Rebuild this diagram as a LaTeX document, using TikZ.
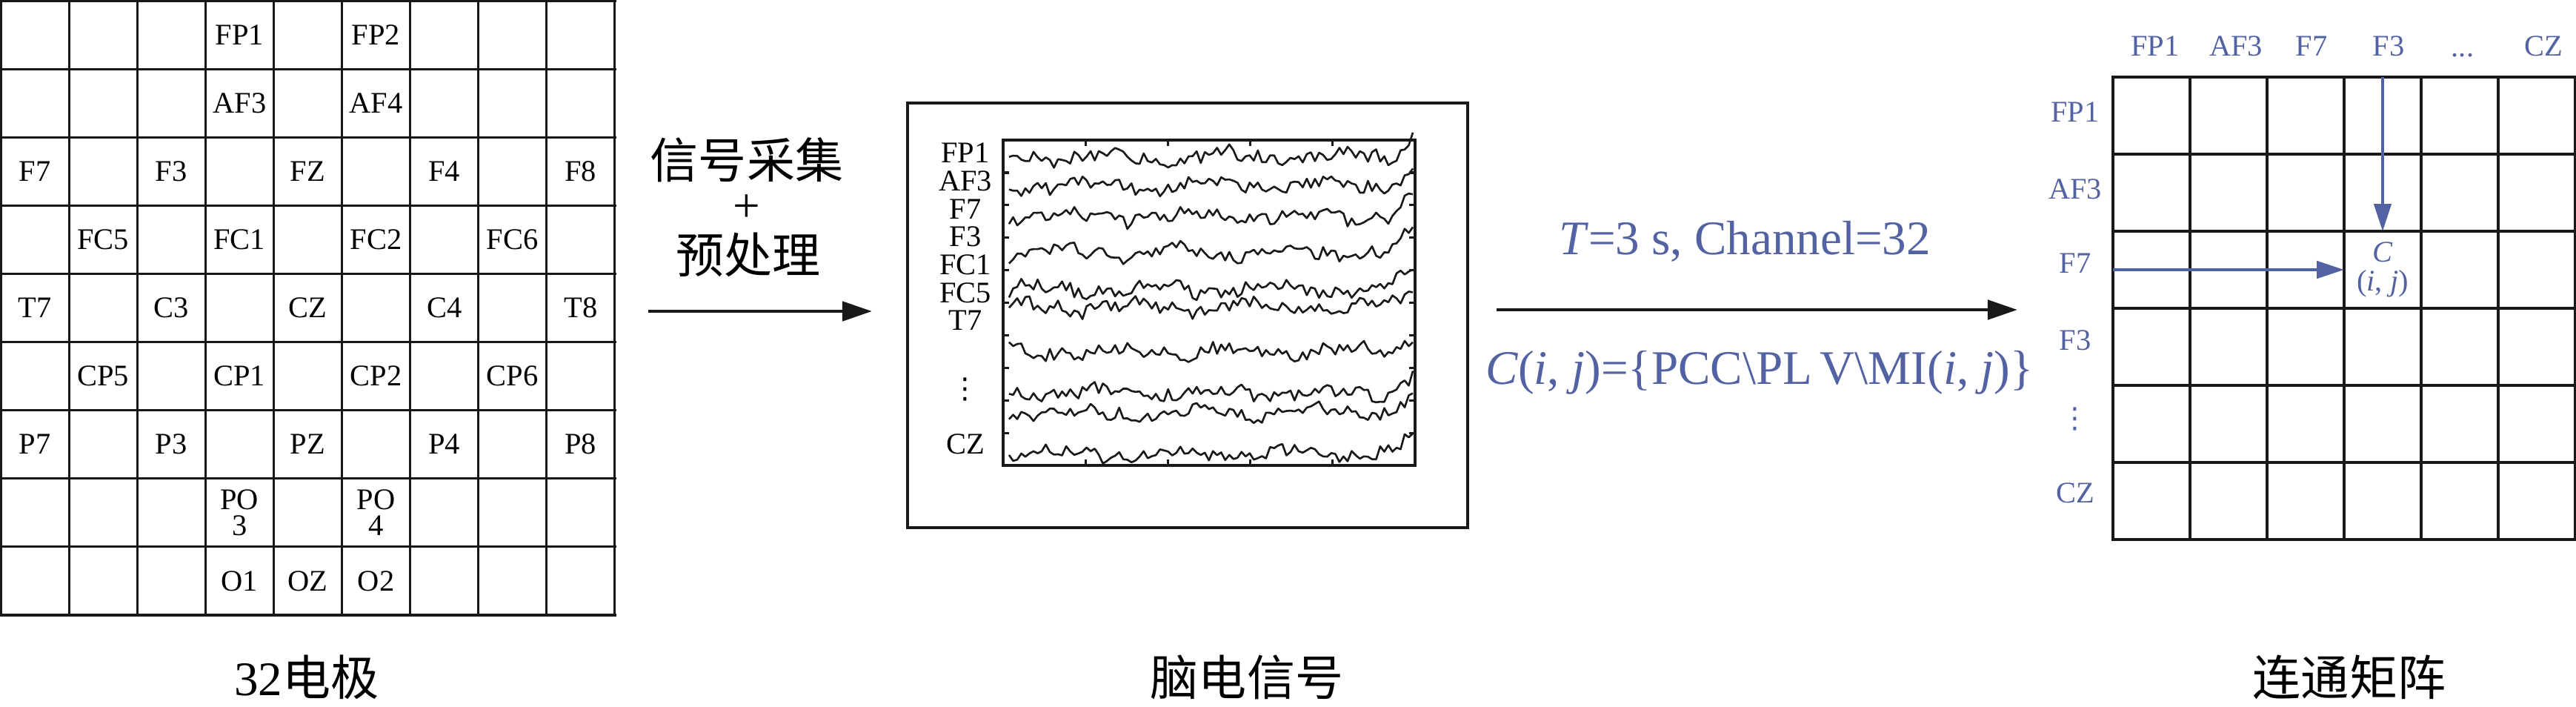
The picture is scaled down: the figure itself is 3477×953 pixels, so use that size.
\documentclass[tikz,border=0pt]{standalone}
\usepackage{fontspec}
\setmainfont{Liberation Serif}
\newfontfamily\cjk{Noto Sans CJK SC}
\newfontfamily\dejavu{DejaVu Sans}
\usetikzlibrary{arrows.meta}
\definecolor{elblue}{RGB}{82,98,163}
\tikzset{
  gridline/.style={line width=0.9pt, draw=black!90, line cap=rect},
  lab/.style={font=\fontsize{11.5}{9.8}\selectfont, inner sep=0pt},
  bluelab/.style={lab, text=elblue},
  dotslab/.style={font=\dejavu\fontsize{11}{11}\selectfont, inner sep=0pt},
  bigcjk/.style={font=\cjk\fontsize{18.5}{22}\selectfont, inner sep=0pt},
  caption/.style={font=\fontsize{18.5}{22}\selectfont, inner sep=0pt},
  formula/.style={font=\fontsize{18.5}{22}\selectfont, inner sep=0pt, text=elblue},
  flow/.style={line width=1.4pt, draw=black!90, -{Triangle[length=11.4pt,width=7.4pt]}},
  bluearrow/.style={draw=elblue, line width=1.1pt, -{Triangle[length=10.5pt,width=6.6pt]}},
  trace/.style={line width=0.75pt, line join=round, draw=black!90},
  tick/.style={line width=0.9pt, draw=black!90},
}
\begin{document}
\begin{tikzpicture}[x=0.01cm,y=-0.01cm]
\useasboundingbox (0,0) rectangle (3477,953);

% ---------- left: 32 electrode grid ----------
\foreach \i in {0,...,9} {
  \draw[gridline] ({1+\i*92.1},1) -- ({1+\i*92.1},830);
  \draw[gridline] (1,{1+\i*92.1}) -- (830,{1+\i*92.1});
}
\foreach \c/\r/\t in {3/0/FP1,5/0/FP2,3/1/AF3,5/1/AF4,
  0/2/F7,2/2/F3,4/2/FZ,6/2/F4,8/2/F8,
  1/3/FC5,3/3/FC1,5/3/FC2,7/3/FC6,
  0/4/T7,2/4/C3,4/4/CZ,6/4/C4,8/4/T8,
  1/5/CP5,3/5/CP1,5/5/CP2,7/5/CP6,
  0/6/P7,2/6/P3,4/6/PZ,6/6/P4,8/6/P8,
  3/8/O1,4/8/OZ,5/8/O2}
  \node[lab] (el-\t) at ({1+(\c+0.5)*92.1},{1+(\r+0.5)*92.1}) {\t};
\node[lab, align=center] (el-PO3) at ({1+3.5*92.1},{1+7.5*92.1}) {PO\\3};
\node[lab, align=center] (el-PO4) at ({1+5.5*92.1},{1+7.5*92.1}) {PO\\4};

% ---------- arrow 1 ----------
\coordinate (a1s) at (875,420);
\coordinate (a1e) at (1177,420);
\draw[flow] (a1s) -- (a1e);
\node[bigcjk] (acq) at (1008,216) {信号采集};
\node[font=\fontsize{18.5}{20}\selectfont, inner sep=0pt] (plus) at (1008,281) {+};
\node[bigcjk] (pre) at (1010,344) {预处理};

% ---------- middle: EEG signals ----------
\draw[line width=1.2pt, draw=black!90] (1225,139) rectangle (1981,712);
\draw[line width=0.9pt, draw=black!90] (1354,189) rectangle (1910,628);
\foreach \k in {1,...,4} {
  \draw[tick] ({1354+\k*111.2},189) -- ({1354+\k*111.2},197);
  \draw[tick] ({1354+\k*111.2},628) -- ({1354+\k*111.2},620);
}
\foreach \k in {1,...,9} {
  \draw[tick] (1354,{189+\k*43.9}) -- (1362,{189+\k*43.9});
  \draw[tick] (1910,{189+\k*43.9}) -- (1902,{189+\k*43.9});
}
\pgfmathsetseed{4242}
\foreach \b [count=\k] in {212,250,292,340,390,414,474,530,556,612} {
  \draw[trace] plot[domain=1362:1907, samples=100, variable=\x]
    (\x, {\b + 8.5*rand + 6*sin(\x*2.3+\k*57) + 3*sin(\x*7.1+\k*31) - 28*(max(0,(\x-1862)/45))^2});
}
\foreach \t/\y in {FP1/206,AF3/244,F7/282,F3/319,FC1/357,FC5/395,T7/432,CZ/599}
  \node[lab] (sig-\t) at (1303,\y) {\t};
\node[dotslab] (sig-dots) at (1303,525) {⋮};

% ---------- arrow 2 ----------
\coordinate (a2s) at (2020,418);
\coordinate (a2e) at (2723,418);
\draw[flow] (a2s) -- (a2e);
\node[formula] (param) at (2355,326) {\textit{T}=3 s, Channel=32};
\node[formula] (cdef) at (2375,503) {\textit{C}(\textit{i}, \textit{j})=\{PCC\textbackslash PL\,V\textbackslash MI(\textit{i}, \textit{j})\}};

% ---------- right: connectivity matrix ----------
\foreach \i in {0,...,6} {
  \draw[gridline] ({2852+\i*104},104) -- ({2852+\i*104},728);
  \draw[gridline] (2852,{104+\i*104}) -- (3476,{104+\i*104});
}
\foreach \t/\x in {FP1/2909,AF3/3018,F7/3120,F3/3224,CZ/3433}
  \node[bluelab] (col-\t) at (\x,62) {\t};
\node[bluelab, anchor=base] (col-dots) at (3324,76) {...};
\foreach \t/\y in {FP1/151,AF3/255,F7/355,F3/459,CZ/665}
  \node[bluelab] (row-\t) at (2801,\y) {\t};
\node[dotslab, text=elblue] (row-dots) at (2801,565) {⋮};

\node[bluelab, align=center, font=\fontsize{11.5}{11}\selectfont] (cij) at (3216,364) {\textit{C}\\(\textit{i}, \textit{j})};
\coordinate (vs) at (3216,104);
\coordinate (ve) at (3216,312);
\coordinate (hs) at (2852,364);
\coordinate (he) at (3164,364);
\draw[bluearrow] (vs) -- (ve);
\draw[bluearrow] (hs) -- (he);

% ---------- captions ----------
\node[caption] (cap1) at (414,914) {32{\cjk 电极}};
\node[bigcjk] (cap2) at (1683,914) {脑电信号};
\node[bigcjk] (cap3) at (3171,914) {连通矩阵};
\end{tikzpicture}
\end{document}
